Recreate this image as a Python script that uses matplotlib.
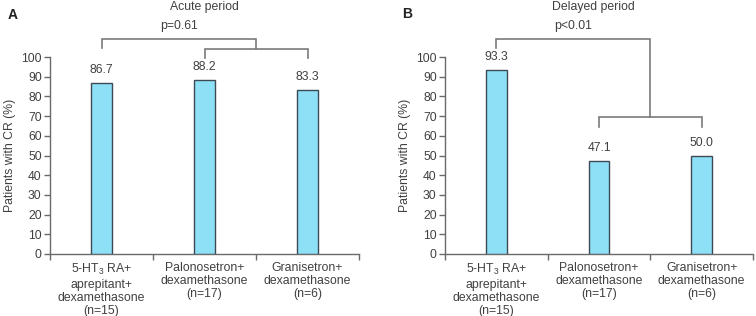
import matplotlib
matplotlib.use("Agg")
import matplotlib.pyplot as plt
import numpy as np

plt.rcParams['font.family'] = ['Liberation Sans', 'DejaVu Sans']
plt.rcParams['mathtext.fontset'] = 'custom'
plt.rcParams['mathtext.rm'] = 'Liberation Sans'
plt.rcParams['mathtext.it'] = 'Liberation Sans'

categories = ["5-HT$_3$ RA+\naprepitant+\ndexamethasone\n(n=15)",
              "Palonosetron+\ndexamethasone\n(n=17)",
              "Granisetron+\ndexamethasone\n(n=6)"]
acute_values = [86.7, 88.2, 83.3]
delayed_values = [93.3, 47.1, 50.0]
yticks = list(range(0, 101, 10))

bar_color = "#8ee0f6"
edge_color = "#3d4a55"
axis_color = "#6a6a6a"
text_color = "#404040"
bracket_color = "#7a7a7a"

fig = plt.figure(figsize=(7.56, 3.16), dpi=100)
axA = fig.add_axes([50/756, 1-254/316, 309/756, 197/316])
axB = fig.add_axes([445/756, 1-254/316, 308/756, 197/316])

def style(ax, values):
    x = np.arange(len(values))
    ax.bar(x, values, width=0.2, color=bar_color, edgecolor=edge_color, linewidth=1.0, zorder=3)
    for xi, v in zip(x, values):
        ax.annotate(f"{v:.1f}", (xi, v), xytext=(0, 5), textcoords="offset points",
                    ha="center", va="bottom", fontsize=8.7, color=text_color)
    ax.set_xlim(-0.5, 2.5)
    ax.set_ylim(0, 100)
    ax.set_yticks(yticks)
    ax.set_xticks([-0.5, 0.5, 1.5, 2.5])
    ax.set_xticklabels([])
    ax.set_xticks(x, minor=True)
    ax.set_xticklabels(categories, minor=True, fontsize=8.8, color=text_color, linespacing=1.12)
    ax.tick_params(axis='x', which='minor', length=0, pad=6)
    ax.tick_params(axis='x', which='major', length=4, color=axis_color, width=1)
    ax.tick_params(axis='y', length=4, color=axis_color, width=1, labelsize=8.7, labelcolor=text_color, pad=2)
    for s in ['top', 'right']:
        ax.spines[s].set_visible(False)
    for s in ['left', 'bottom']:
        ax.spines[s].set_color(axis_color)
        ax.spines[s].set_linewidth(1)
    ax.set_ylabel("Patients with CR (%)", fontsize=8.8, color=text_color, labelpad=4)

style(axA, acute_values)
style(axB, delayed_values)

def bracket(ax, x0, x1, y, d0, d1):
    ax.plot([x0, x0, x1, x1], [d0, y, y, d1], color=bracket_color, lw=1.2, clip_on=False, solid_joinstyle='miter')

# Panel A brackets
bracket(axA, 0, 1.5, 109.1, 104.6, 104.1)
bracket(axA, 1.0, 2.0, 104.1, 99.5, 99.5)
axA.text(0.75, 115.7, "p=0.61", ha="center", va="center", fontsize=8.8, color=text_color)
axA.text(1.0, 125.5, "Acute period", ha="center", va="center", fontsize=8.8, color=text_color)

# Panel B brackets
bracket(axB, 0, 1.5, 109.1, 104.6, 69.5)
bracket(axB, 1.0, 2.0, 69.5, 64.5, 64.5)
axB.text(0.75, 115.7, "p<0.01", ha="center", va="center", fontsize=8.8, color=text_color)
axB.text(0.95, 125.5, "Delayed period", ha="center", va="center", fontsize=8.8, color=text_color)

fig.text(8/756, 1-15/316, "A", fontsize=10, fontweight="bold", color="#222222", va="center")
fig.text(402/756, 1-14/316, "B", fontsize=10, fontweight="bold", color="#222222", va="center")

fig.savefig("out.png", dpi=100)
